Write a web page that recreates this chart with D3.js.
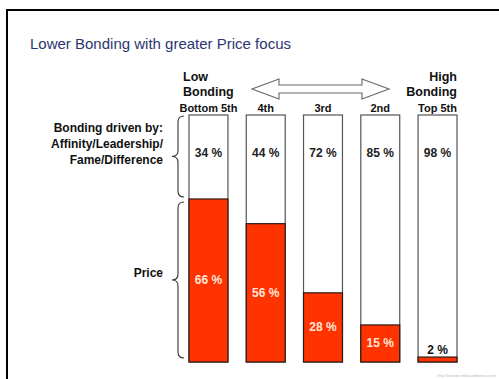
<!DOCTYPE html>
<html>
<head>
<meta charset="utf-8">
<script src="https://cdn.jsdelivr.net/npm/d3@7"></script>
<style>
  body { margin: 0; background: #fff; }
  svg { display: block; }
  .lbl { font-family: "Liberation Sans", Arial, sans-serif; font-weight: bold; fill: #111; }
  .nar { font-family: "Liberation Sans Narrow", "Arial Narrow", "Liberation Sans", sans-serif; font-weight: bold; }
</style>
</head>
<body>
<script>
// quintiles, low bonding -> high bonding
var categories = ["Bottom 5th", "4th", "3rd", "2nd", "Top 5th"];
var bonding = [34, 44, 72, 85, 98];
var price = [66, 56, 28, 15, 2];

var fullwidth = 499, fullheight = 379;

var svg = d3.select("body").append("svg")
    .attr("width", fullwidth)
    .attr("height", fullheight);

// frame
svg.append("path")
    .attr("d", "M7,380 V10 H500")
    .attr("fill", "none")
    .attr("stroke", "#000")
    .attr("stroke-width", 2);

// title
svg.append("text")
    .attr("x", 30)
    .attr("y", 49)
    .style("font-family", "Liberation Sans, Arial, sans-serif")
    .style("font-size", "15px")
    .style("fill", "#2b3670")
    .text("Lower Bonding with greater Price focus");

// scales
var x = d3.scaleBand()
    .domain(categories)
    .range([189, 457])
    .paddingInner(0.32)
    .paddingOuter(0);

var y = d3.scaleLinear().domain([0, 100]).range([362, 115]);

var data = categories.map(function(c, i) {
  return {cat: c, bonding: bonding[i], price: price[i]};
});

// white (bonding) part: full column outline
svg.selectAll(".col")
    .data(data)
  .enter().append("rect")
    .attr("class", "col")
    .attr("x", function(d) { return x(d.cat); })
    .attr("y", y(100))
    .attr("width", x.bandwidth())
    .attr("height", y(0) - y(100))
    .attr("fill", "#fff")
    .attr("stroke", "#555")
    .attr("stroke-width", 1.2);

// red (price) part
svg.selectAll(".price")
    .data(data)
  .enter().append("rect")
    .attr("class", "price")
    .attr("x", function(d) { return x(d.cat); })
    .attr("y", function(d) { return y(d.price); })
    .attr("width", x.bandwidth())
    .attr("height", function(d) { return y(0) - y(d.price); })
    .attr("fill", "#ff3300")
    .attr("stroke", "#2a1a14")
    .attr("stroke-width", 1.2);

// category labels
svg.selectAll(".cat")
    .data(data)
  .enter().append("text")
    .attr("class", "lbl nar")
    .attr("x", function(d) { return x(d.cat) + x.bandwidth() / 2; })
    .attr("y", 112)
    .attr("text-anchor", "middle")
    .style("font-size", "11px")
    .text(function(d) { return d.cat; });

// bonding values
svg.selectAll(".bval")
    .data(data)
  .enter().append("text")
    .attr("class", "lbl nar")
    .attr("x", function(d) { return x(d.cat) + x.bandwidth() / 2; })
    .attr("y", 157)
    .attr("text-anchor", "middle")
    .style("font-size", "12px")
    .style("fill", "#222")
    .text(function(d) { return d.bonding + " %"; });

// price values
svg.selectAll(".pval")
    .data(data)
  .enter().append("text")
    .attr("class", "lbl nar")
    .attr("x", function(d) { return x(d.cat) + x.bandwidth() / 2; })
    .attr("y", function(d) {
      if (d.price < 5) return y(d.price) - 3;
      return (y(d.price) + y(0)) / 2 + 4;
    })
    .attr("text-anchor", "middle")
    .style("font-size", "12px")
    .style("fill", function(d) { return d.price < 5 ? "#111" : "#ffe6d8"; })
    .text(function(d) { return d.price + " %"; });

// Low / High bonding headers
var x0 = x(categories[0]), x4 = x(categories[4]) + x.bandwidth();
svg.append("text").attr("class", "lbl").attr("x", x0 - 6).attr("y", 81)
    .style("font-size", "12.5px").text("Low");
svg.append("text").attr("class", "lbl").attr("x", x0 - 6).attr("y", 96)
    .style("font-size", "12.5px").text("Bonding");
svg.append("text").attr("class", "lbl").attr("x", x4).attr("y", 81)
    .attr("text-anchor", "end").style("font-size", "12.5px").text("High");
svg.append("text").attr("class", "lbl").attr("x", x4).attr("y", 96)
    .attr("text-anchor", "end").style("font-size", "12.5px").text("Bonding");

// double-headed hollow arrow
var ay = 89, al = 252, ar = 389, hl = 27, hh = 10, sh = 4;
svg.append("path")
    .attr("d", "M" + al + "," + ay +
      " L" + (al + hl) + "," + (ay - hh) +
      " L" + (al + hl) + "," + (ay - sh) +
      " L" + (ar - hl) + "," + (ay - sh) +
      " L" + (ar - hl) + "," + (ay - hh) +
      " L" + ar + "," + ay +
      " L" + (ar - hl) + "," + (ay + hh) +
      " L" + (ar - hl) + "," + (ay + sh) +
      " L" + (al + hl) + "," + (ay + sh) +
      " L" + (al + hl) + "," + (ay + hh) + " Z")
    .attr("fill", "#fff")
    .attr("stroke", "#666")
    .attr("stroke-width", 1.1);

// curly braces
function brace(xl, y0, y1) {
  var w = 12, r = 6, m = (y0 + y1) / 2, xm = xl + w / 2;
  return "M" + (xl + w) + "," + y0 +
    " Q" + xm + "," + y0 + " " + xm + "," + (y0 + r) +
    " L" + xm + "," + (m - r) +
    " Q" + xm + "," + m + " " + xl + "," + m +
    " Q" + xm + "," + m + " " + xm + "," + (m + r) +
    " L" + xm + "," + (y1 - r) +
    " Q" + xm + "," + y1 + " " + (xl + w) + "," + y1;
}
svg.append("path")
    .attr("d", brace(172, y(100) + 1, y(price[0]) - 2))
    .attr("fill", "none").attr("stroke", "#333").attr("stroke-width", 1.1);
svg.append("path")
    .attr("d", brace(172, y(price[0]) + 3, y(0) - 4))
    .attr("fill", "none").attr("stroke", "#333").attr("stroke-width", 1.1);

// side labels
var side = ["Bonding driven by:", "Affinity/Leadership/", "Fame/Difference"];
svg.selectAll(".side")
    .data(side)
  .enter().append("text")
    .attr("class", "lbl")
    .attr("x", 163)
    .attr("y", function(d, i) { return 132 + i * 16; })
    .attr("text-anchor", "end")
    .style("font-size", "12px")
    .text(function(d) { return d; });

svg.append("text")
    .attr("class", "lbl")
    .attr("x", 163)
    .attr("y", 277)
    .attr("text-anchor", "end")
    .style("font-size", "12px")
    .text("Price");

// source note
svg.append("text")
    .attr("x", 496)
    .attr("y", 377)
    .attr("text-anchor", "end")
    .style("font-family", "Liberation Sans, Arial, sans-serif")
    .style("font-size", "4px")
    .style("fill", "#bbb")
    .text("http://brandz.millwardbrown.com/");
</script>
</body>
</html>
